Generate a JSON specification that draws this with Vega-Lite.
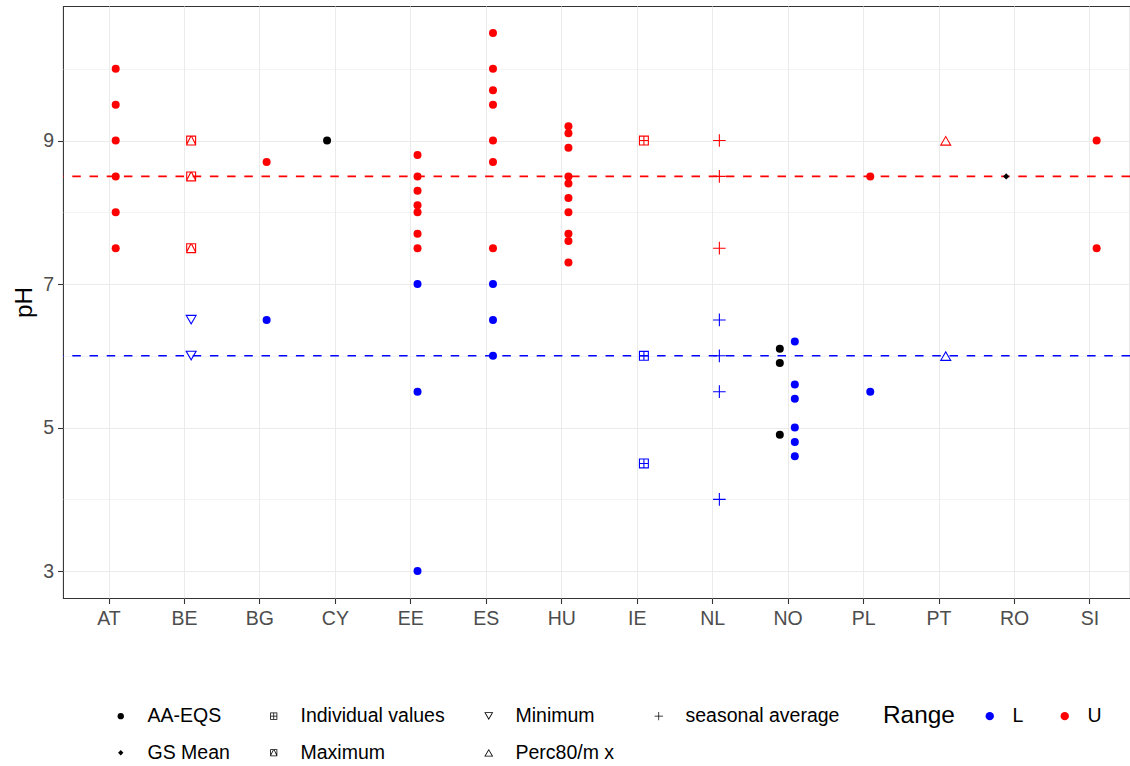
{
  "$schema": "https://vega.github.io/schema/vega-lite/v6.json",
  "width": 1067,
  "height": 592,
  "autosize": {"type": "none"},
  "padding": {"left": 63, "top": 6, "right": 0, "bottom": 168},
  "background": "white",
  "config": {
    "font": "Liberation Sans",
    "view": {"stroke": "#333333", "strokeWidth": 1.07}
  },
  "datasets": {
    "pts": [
      {"country": "AT", "pH": 10, "Range": "U", "type": "AA-EQS"},
      {"country": "AT", "pH": 9.5, "Range": "U", "type": "AA-EQS"},
      {"country": "AT", "pH": 9, "Range": "U", "type": "AA-EQS"},
      {"country": "AT", "pH": 8.5, "Range": "U", "type": "AA-EQS"},
      {"country": "AT", "pH": 8, "Range": "U", "type": "AA-EQS"},
      {"country": "AT", "pH": 7.5, "Range": "U", "type": "AA-EQS"},
      {"country": "BE", "pH": 9, "Range": "U", "type": "Maximum"},
      {"country": "BE", "pH": 8.5, "Range": "U", "type": "Maximum"},
      {"country": "BE", "pH": 7.5, "Range": "U", "type": "Maximum"},
      {"country": "BE", "pH": 6.5, "Range": "L", "type": "Minimum"},
      {"country": "BE", "pH": 6, "Range": "L", "type": "Minimum"},
      {"country": "BG", "pH": 8.7, "Range": "U", "type": "AA-EQS"},
      {"country": "BG", "pH": 6.5, "Range": "L", "type": "AA-EQS"},
      {"country": "CY", "pH": 9, "Range": "NA", "type": "AA-EQS"},
      {"country": "EE", "pH": 8.8, "Range": "U", "type": "AA-EQS"},
      {"country": "EE", "pH": 8.5, "Range": "U", "type": "AA-EQS"},
      {"country": "EE", "pH": 8.3, "Range": "U", "type": "AA-EQS"},
      {"country": "EE", "pH": 8.1, "Range": "U", "type": "AA-EQS"},
      {"country": "EE", "pH": 8, "Range": "U", "type": "AA-EQS"},
      {"country": "EE", "pH": 7.7, "Range": "U", "type": "AA-EQS"},
      {"country": "EE", "pH": 7.5, "Range": "U", "type": "AA-EQS"},
      {"country": "EE", "pH": 7, "Range": "L", "type": "AA-EQS"},
      {"country": "EE", "pH": 5.5, "Range": "L", "type": "AA-EQS"},
      {"country": "EE", "pH": 3, "Range": "L", "type": "AA-EQS"},
      {"country": "ES", "pH": 10.5, "Range": "U", "type": "AA-EQS"},
      {"country": "ES", "pH": 10, "Range": "U", "type": "AA-EQS"},
      {"country": "ES", "pH": 9.7, "Range": "U", "type": "AA-EQS"},
      {"country": "ES", "pH": 9.5, "Range": "U", "type": "AA-EQS"},
      {"country": "ES", "pH": 9, "Range": "U", "type": "AA-EQS"},
      {"country": "ES", "pH": 8.7, "Range": "U", "type": "AA-EQS"},
      {"country": "ES", "pH": 7.5, "Range": "U", "type": "AA-EQS"},
      {"country": "ES", "pH": 7, "Range": "L", "type": "AA-EQS"},
      {"country": "ES", "pH": 6.5, "Range": "L", "type": "AA-EQS"},
      {"country": "ES", "pH": 6, "Range": "L", "type": "AA-EQS"},
      {"country": "HU", "pH": 9.2, "Range": "U", "type": "AA-EQS"},
      {"country": "HU", "pH": 9.1, "Range": "U", "type": "AA-EQS"},
      {"country": "HU", "pH": 8.9, "Range": "U", "type": "AA-EQS"},
      {"country": "HU", "pH": 8.5, "Range": "U", "type": "AA-EQS"},
      {"country": "HU", "pH": 8.4, "Range": "U", "type": "AA-EQS"},
      {"country": "HU", "pH": 8.2, "Range": "U", "type": "AA-EQS"},
      {"country": "HU", "pH": 8, "Range": "U", "type": "AA-EQS"},
      {"country": "HU", "pH": 7.7, "Range": "U", "type": "AA-EQS"},
      {"country": "HU", "pH": 7.6, "Range": "U", "type": "AA-EQS"},
      {"country": "HU", "pH": 7.3, "Range": "U", "type": "AA-EQS"},
      {"country": "IE", "pH": 9, "Range": "U", "type": "Individual values"},
      {"country": "IE", "pH": 6, "Range": "L", "type": "Individual values"},
      {"country": "IE", "pH": 4.5, "Range": "L", "type": "Individual values"},
      {"country": "NL", "pH": 9, "Range": "U", "type": "seasonal average"},
      {"country": "NL", "pH": 8.5, "Range": "U", "type": "seasonal average"},
      {"country": "NL", "pH": 7.5, "Range": "U", "type": "seasonal average"},
      {"country": "NL", "pH": 6.5, "Range": "L", "type": "seasonal average"},
      {"country": "NL", "pH": 6, "Range": "L", "type": "seasonal average"},
      {"country": "NL", "pH": 5.5, "Range": "L", "type": "seasonal average"},
      {"country": "NL", "pH": 4, "Range": "L", "type": "seasonal average"},
      {"country": "NO", "pH": 6.1, "Range": "NA", "type": "AA-EQS"},
      {"country": "NO", "pH": 5.9, "Range": "NA", "type": "AA-EQS"},
      {"country": "NO", "pH": 4.9, "Range": "NA", "type": "AA-EQS"},
      {"country": "NO", "pH": 6.2, "Range": "L", "type": "AA-EQS"},
      {"country": "NO", "pH": 5.6, "Range": "L", "type": "AA-EQS"},
      {"country": "NO", "pH": 5.4, "Range": "L", "type": "AA-EQS"},
      {"country": "NO", "pH": 5, "Range": "L", "type": "AA-EQS"},
      {"country": "NO", "pH": 4.8, "Range": "L", "type": "AA-EQS"},
      {"country": "NO", "pH": 4.6, "Range": "L", "type": "AA-EQS"},
      {"country": "PL", "pH": 8.5, "Range": "U", "type": "AA-EQS"},
      {"country": "PL", "pH": 5.5, "Range": "L", "type": "AA-EQS"},
      {"country": "PT", "pH": 9, "Range": "U", "type": "Perc80/m x"},
      {"country": "PT", "pH": 6, "Range": "L", "type": "Perc80/m x"},
      {"country": "RO", "pH": 8.5, "Range": "NA", "type": "GS Mean"},
      {"country": "SI", "pH": 9, "Range": "U", "type": "AA-EQS"},
      {"country": "SI", "pH": 7.5, "Range": "U", "type": "AA-EQS"}
    ],
    "lim": [
      {"pH": 8.5, "Range": "U"},
      {"pH": 6, "Range": "L"}
    ]
  },
  "encoding": {
    "color": {
      "field": "Range",
      "type": "nominal",
      "scale": {"domain": ["L", "U", "NA"], "range": ["#0000FF", "#FF0000", "#000000"]},
      "legend": {
        "orient": "none",
        "legendX": 820,
        "legendY": 700,
        "direction": "horizontal",
        "values": ["L", "U"],
        "title": "Range",
        "titleOrient": "left",
        "titleFontSize": 24.4,
        "titleFontWeight": "normal",
        "titleColor": "black",
        "titleBaseline": "middle",
        "titlePadding": 25,
        "labelFontSize": 19.5,
        "labelColor": "black",
        "labelOffset": 13,
        "columnPadding": 31,
        "symbolType": "circle",
        "symbolSize": 70,
        "symbolStrokeWidth": 0,
        "symbolOpacity": 1
      }
    }
  },
  "layer": [
    {
      "data": {"name": "lim"},
      "mark": {"type": "rule", "strokeDash": [8.5, 8.7], "strokeWidth": 1.6},
      "encoding": {
        "y": {
          "field": "pH",
          "type": "quantitative",
          "scale": {"domain": [2.625, 10.875], "nice": false, "zero": false},
          "axis": {
            "orient": "left",
            "values": [4, 6, 8, 10],
            "grid": true,
            "gridColor": "#EBEBEB",
            "gridWidth": 0.55,
            "labels": false,
            "ticks": false,
            "domain": false,
            "title": null
          }
        }
      }
    },
    {
      "data": {"name": "pts"},
      "transform": [
        {"calculate": "datum.Range === 'NA' ? 'a' : 'b'", "as": "grp"}
      ],
      "mark": {"type": "point", "filled": true, "opacity": 1, "strokeWidth": 0},
      "encoding": {
        "x": {
          "field": "country",
          "type": "nominal",
          "scale": {"type": "band", "paddingInner": 0, "paddingOuter": 0.11, "range": [0, 1073]},
          "axis": {
            "title": null,
            "labelAngle": 0,
            "labelFontSize": 19.5,
            "labelColor": "#4D4D4D",
            "tickColor": "#333333",
            "tickWidth": 1.07,
            "tickSize": 5.5,
            "labelPadding": 6,
            "domain": false,
            "grid": true,
            "gridColor": "#EBEBEB",
            "gridWidth": 1.07,
            "bandPosition": 0.5
          }
        },
        "xOffset": {
          "field": "grp",
          "type": "nominal",
          "scale": {"type": "point", "domain": ["a", "b"], "range": [29.4, 44.4], "padding": 0}
        },
        "y": {
          "field": "pH",
          "type": "quantitative",
          "scale": {"domain": [2.625, 10.875], "nice": false, "zero": false},
          "axis": {
            "orient": "left",
            "values": [3, 5, 7, 9],
            "title": "pH",
            "grid": true,
            "gridColor": "#EBEBEB",
            "gridWidth": 1.07,
            "domain": false,
            "tickColor": "#333333",
            "tickWidth": 1.07,
            "tickSize": 5.5,
            "labelFontSize": 19.5,
            "labelColor": "#4D4D4D",
            "labelPadding": 4,
            "titleFontSize": 24.4,
            "titleFontWeight": "normal",
            "titleColor": "black",
            "titlePadding": 6
          }
        },
        "shape": {
          "field": "type",
          "type": "nominal",
          "scale": {
            "domain": ["AA-EQS", "GS Mean", "Individual values", "Maximum", "Minimum", "Perc80/m x", "seasonal average"],
            "range": [
              "circle",
              "diamond",
              "M-1,-1H1V1H-1ZM-0.78,-0.78V-0.11H-0.11V-0.78ZM0.11,-0.78V-0.11H0.78V-0.78ZM-0.78,0.11V0.78H-0.11V0.11ZM0.11,0.11V0.78H0.78V0.11Z",
              "M-1,-1H1V1H-1ZM-0.78,-0.78L-0.78,0.314L-0.233,-0.78ZM0.233,-0.78L0.78,0.314L0.78,-0.78ZM0,-0.754L-0.767,0.78L0.767,0.78Z",
              "M0,0.866L-1,-0.866L1,-0.866ZM0,0.494L0.678,-0.68L-0.678,-0.68Z",
              "M0,-0.866L1,0.866L-1,0.866ZM0,-0.494L-0.678,0.68L0.678,0.68Z",
              "M-1,-0.087H-0.087V-1H0.087V-0.087H1V0.087H0.087V1H-0.087V0.087H-1Z"
            ]
          },
          "legend": {
            "orient": "none",
            "legendX": 48,
            "legendY": 700,
            "title": null,
            "columns": 4,
            "labelFontSize": 19.5,
            "labelColor": "black",
            "labelOffset": 17,
            "columnPadding": 34,
            "rowPadding": 16,
            "symbolSize": 60,
            "symbolFillColor": "black",
            "symbolStrokeWidth": 0,
            "symbolOpacity": 1,
            "encode": {
              "symbols": {
                "update": {
                  "size": {"signal": "datum.value === 'AA-EQS' ? 40 : datum.value === 'GS Mean' ? 28 : (datum.value === 'Minimum' || datum.value === 'Perc80/m x') ? 80 : datum.value === 'seasonal average' ? 70 : 50"}
                }
              }
            }
          }
        },
        "size": {
          "condition": [
            {"test": "datum.type === 'GS Mean'", "value": 40},
            {"test": "datum.type === 'seasonal average'", "value": 160},
            {"test": "datum.type === 'Minimum' || datum.type === 'Perc80/m x'", "value": 140},
            {"test": "datum.type === 'Individual values' || datum.type === 'Maximum'", "value": 100}
          ],
          "value": 64
        }
      }
    }
  ],
  "resolve": {"axis": {"y": "independent"}}
}
